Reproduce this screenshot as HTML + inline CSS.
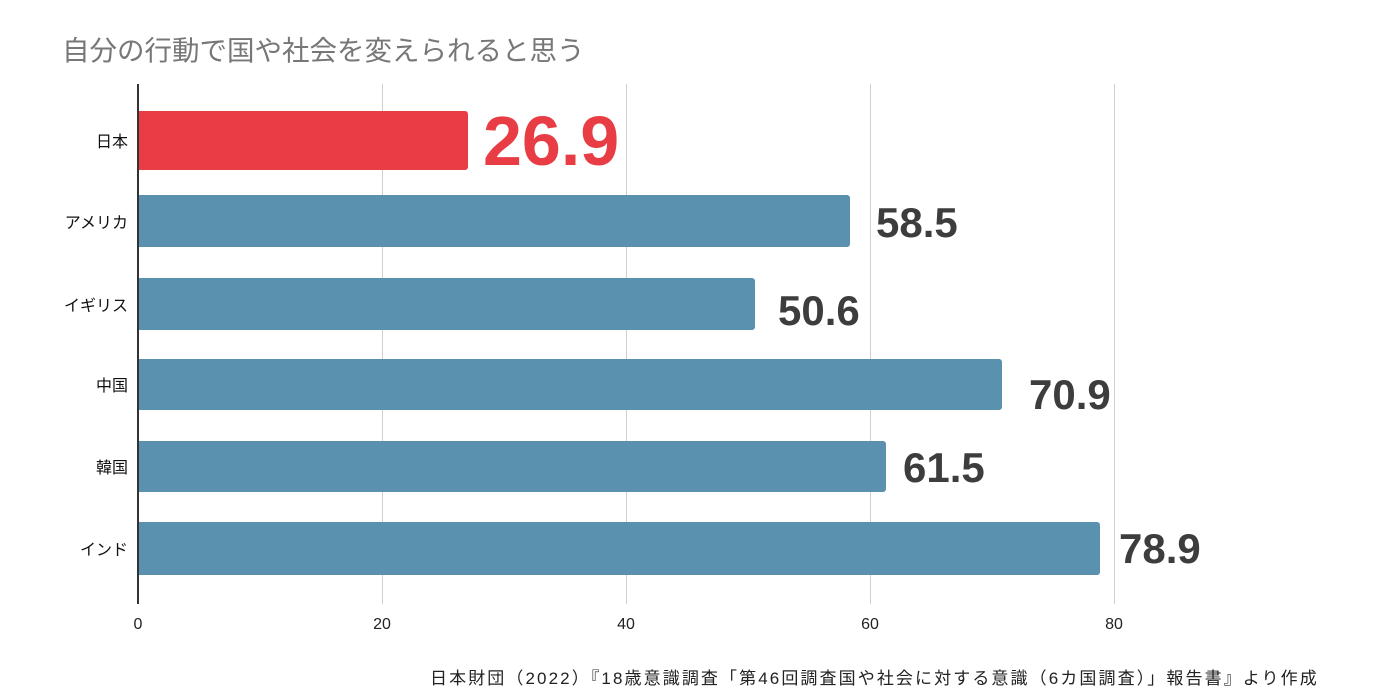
<!DOCTYPE html>
<html><head><meta charset="utf-8"><style>
body{margin:0;width:1390px;height:700px;background:#fff;position:relative;overflow:hidden;font-family:"Liberation Sans","Noto Sans CJK JP",sans-serif}
.a{position:absolute}
.g{position:absolute;top:84px;height:520px;width:1px;background:#cfcfcf}
.bar{position:absolute;left:139px;background:#5a91ae;border-radius:0 3px 3px 0}
.lab{position:absolute;right:1262px;font-size:16px;color:#111;transform:translateY(-50%);white-space:nowrap}
.v{position:absolute;font-weight:bold;font-size:42px;color:#3d3d3d;transform:translateY(-50%);line-height:1}
.t{position:absolute;top:616px;font-size:16px;color:#222;transform:translateX(-50%)}
</style></head><body>
<div class="a" style="left:62px;top:28px;font-size:27.5px;color:#777">自分の行動で国や社会を変えられると思う</div>
<div class="g" style="left:382px"></div><div class="g" style="left:626px"></div><div class="g" style="left:870px"></div><div class="g" style="left:1114px"></div>
<div class="a" style="left:137px;top:84px;width:2px;height:520px;background:#333"></div>
<div class="bar" style="top:111px;height:59px;width:329px;background:#e83d45"></div>
<div class="bar" style="top:195px;height:52px;width:711px"></div>
<div class="bar" style="top:278px;height:52px;width:616px"></div>
<div class="bar" style="top:359px;height:51px;width:863px"></div>
<div class="bar" style="top:441px;height:51px;width:747px"></div>
<div class="bar" style="top:522px;height:53px;width:961px"></div>
<div class="lab" style="top:140px">日本</div>
<div class="lab" style="top:221px">アメリカ</div>
<div class="lab" style="top:304px">イギリス</div>
<div class="lab" style="top:384px">中国</div>
<div class="lab" style="top:466px">韓国</div>
<div class="lab" style="top:548px">インド</div>
<div class="v" style="left:483px;top:141px;font-size:70px;color:#e83d45">26.9</div>
<div class="v" style="left:876px;top:223px">58.5</div>
<div class="v" style="left:778px;top:311px">50.6</div>
<div class="v" style="left:1029px;top:395px">70.9</div>
<div class="v" style="left:903px;top:468px">61.5</div>
<div class="v" style="left:1119px;top:549px">78.9</div>
<div class="t" style="left:138px">0</div><div class="t" style="left:382px">20</div><div class="t" style="left:626px">40</div><div class="t" style="left:870px">60</div><div class="t" style="left:1114px">80</div>
<div class="a" style="left:430px;top:664px;font-size:17px;letter-spacing:2.1px;color:#222;white-space:nowrap">日本財団（2022）『18歳意識調査「第46回調査国や社会に対する意識（6カ国調査）」報告書』より作成</div>
</body></html>
